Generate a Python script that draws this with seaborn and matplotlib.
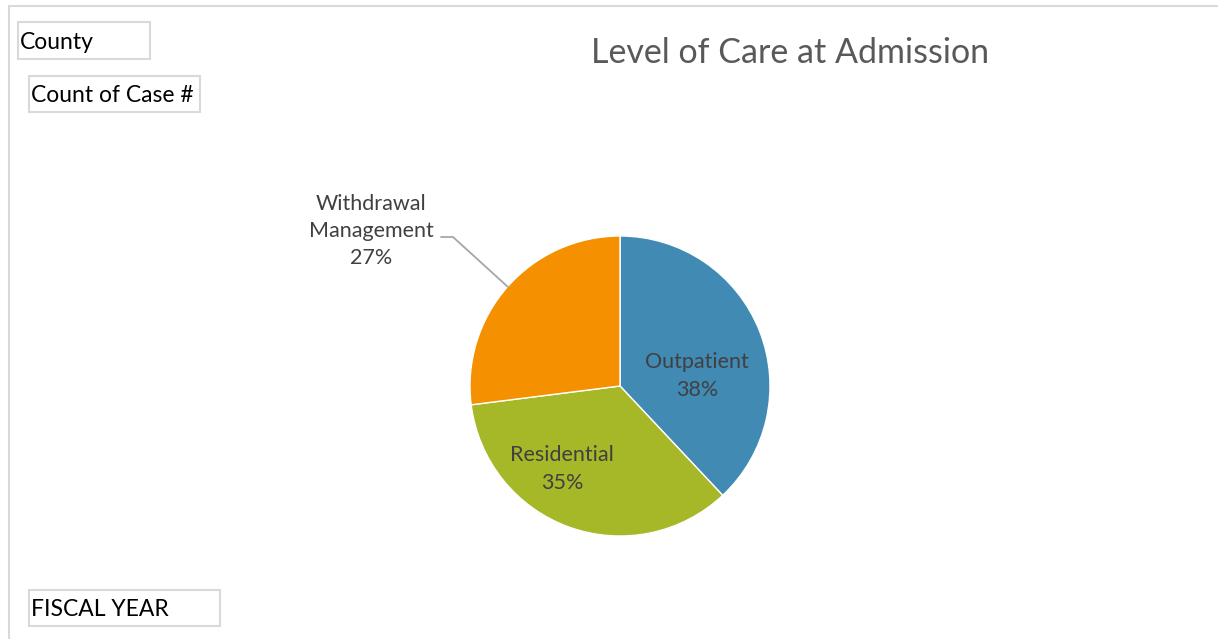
import matplotlib
matplotlib.use("Agg")
import matplotlib.pyplot as plt
import seaborn as sns
from matplotlib.patches import Rectangle

# Data
levels = ["Outpatient", "Residential", "Withdrawal\nManagement"]
shares = [38, 35, 27]
colors = ["#418AB3", "#A6B727", "#F59100"]
# label centres in pixel space (x, y from top)
label_pos = [(697, 376), (562, 469), (371, 231)]
field_buttons = ["County", "Count of Case #", "FISCAL YEAR"]
button_boxes = [(18, 22, 132, 37), (29, 76, 171, 36), (29, 590, 191, 36)]

sns.set_theme(style="white")
plt.rcParams["font.family"] = ["Lato", "DejaVu Sans"]

W, H = 1218, 639
fig = plt.figure(figsize=(W / 100, H / 100), dpi=100)
ax = fig.add_axes([0, 0, 1, 1])

# outer chart frame
ax.plot([9, W + 5], [H - 6, H - 6], color="#D9D9D9", lw=1.5)
ax.plot([9, 9], [H - 6, -5], color="#D9D9D9", lw=1.5)

ax.pie(shares, colors=colors, startangle=90, counterclock=False,
       center=(620, H - 386), radius=150, frame=True,
       wedgeprops=dict(linewidth=1.0, edgecolor="white"))
ax.set_xlim(0, W)
ax.set_ylim(0, H)
ax.axis("off")

for name, val, (x, y) in zip(levels, shares, label_pos):
    ax.text(x, H - y, f"{name}\n{val}%", ha="center", va="center",
            fontsize=15.5, color="#404040", linespacing=1.45)

# leader line for withdrawal management
ax.plot([441, 453, 508], [H - 237, H - 237, H - 287], color="#A6A6A6", lw=1.3)

ax.text(790, H - 53, "Level of Care at Admission", ha="center", va="center",
        fontsize=24.5, color="#595959")

for txt, (x, y, w, h) in zip(field_buttons, button_boxes):
    ax.add_patch(Rectangle((x, H - y - h), w, h, fill=False,
                           edgecolor="#D9D9D9", lw=1.5))
    ax.text(x + 2, H - y - h / 2 - 2, txt, ha="left", va="center",
            fontsize=16.5, color="black")

fig.savefig("out.png", dpi=100)
